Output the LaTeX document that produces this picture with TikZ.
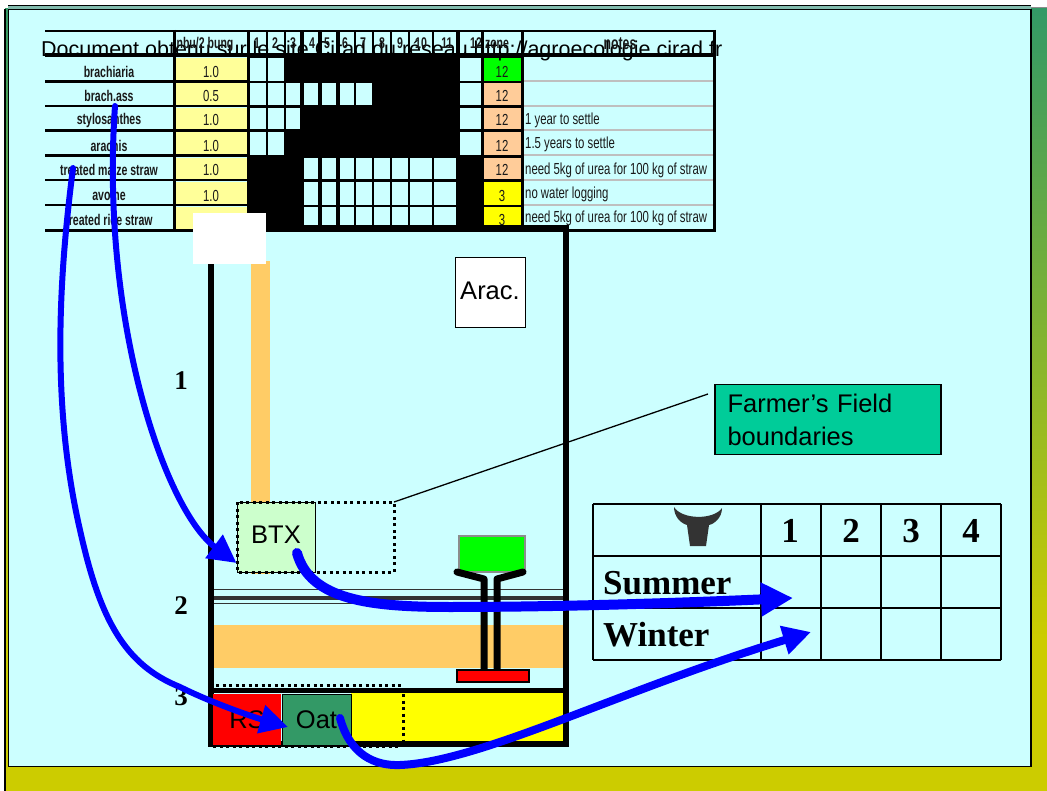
\documentclass[tikz,border=0pt]{standalone}
\usepackage{fontspec}
\usepackage{xcolor}
\setmainfont{Liberation Sans}
\newfontfamily\narrowfont[FakeStretch=0.71]{Liberation Sans}
\newfontfamily\narrowbold[FakeStretch=0.68]{Liberation Sans Bold}
\newfontfamily\timesfont{Liberation Serif}
\usetikzlibrary{arrows.meta,positioning,calc}
\definecolor{panel}{HTML}{CCFFFF}
\definecolor{olive}{HTML}{CCCC00}
\definecolor{seagreen}{HTML}{339966}
\definecolor{paleyellow}{HTML}{FFFF99}
\definecolor{brightyellow}{HTML}{FFFF00}
\definecolor{peach}{HTML}{FFCC99}
\definecolor{straw}{HTML}{FFCC66}
\definecolor{palegreen}{HTML}{CCFFCC}
\definecolor{teal}{HTML}{00CC99}
\definecolor{flow}{HTML}{0000FF}
\begin{document}
\begin{tikzpicture}[
  x=1pt,y=-1pt,
  lbl/.style={inner sep=0,anchor=base,font=\narrowbold\fontsize{15.5}{15}\selectfont,text=black!90},
  val/.style={inner sep=0,anchor=base,font=\narrowfont\fontsize{16}{15}\selectfont,text=black!90},
  note/.style={val,anchor=base west},
  plotbox/.style={draw=black,line width=1pt,inner sep=0,text depth=4pt,font=\fontsize{25.5}{30}\selectfont},
  big/.style={inner sep=0,font=\timesfont\bfseries\fontsize{35}{35}\selectfont},
  sidenum/.style={inner sep=0,font=\timesfont\bfseries\fontsize{27}{27}\selectfont},
  fieldline/.style={line width=6pt,draw=black},
  dots/.style={line width=3pt,dash pattern=on 3pt off 3.5pt,draw=black},
  arr/.style={-{Triangle[length=28pt,width=28pt]},line width=6pt,draw=flow,line cap=round}
]
\useasboundingbox (0,0) rectangle (1047,791);
% frame
\fill[white] (0,0) rectangle (1047,791);
\shade[top color=seagreen,bottom color=olive] (5,9) rectangle (1047,640);
\fill[olive] (5,640) rectangle (1047,791);
\fill[black] (4,9) rectangle (6,791);
\draw[black!45,line width=1pt] (1031,8) -- (1047,8);
\fill[teal!40!gray!70] (8,6) rectangle (1031,9);
\draw[black,line width=1pt] (8,6) -- (1031,6);
\draw[fill=panel,draw=black,line width=1.6pt] (8.5,9.5) rectangle (1031,766.5);
% table
\fill[black] (247,30) rectangle (524,232);
\foreach \rt/\rb/\cells in {
  32/53/{250/266,268/284,286/300,304/318,322/336,340/354,356/372,374/390,392/408,410/432,434/456,460/481,484/521},
  58/81/{250/266,268/284,460/481},
  83/105/{250/266,268/284,286/300,304/318,322/336,340/354,356/372,460/481},
  108/129/{250/266,268/284,286/300,460/481},
  132/155/{250/266,268/284,460/481},
  158/179/{304/318,322/336,340/354,356/372,374/390,392/408,410/432,434/456},
  182/205/{304/318,322/336,340/354,356/372,374/390,392/408,410/432,434/456},
  207/225/{304/318,322/336,340/354,356/372,374/390,392/408,410/432,434/456}}{
  \foreach \cl/\cr in \cells {\fill[panel] (\cl,\rt) rectangle (\cr,\rb);}
}
\foreach \rt/\rb in {58/81,83/105,108/129,132/155,158/179,182/205,207/229}{
  \fill[paleyellow] (176,\rt) rectangle (247,\rb);
}
\fill[green] (484,58) rectangle (521,81);
\foreach \rt/\rb in {83/105,108/129,132/155,158/179}{\fill[peach] (484,\rt) rectangle (521,\rb);}
\foreach \rt/\rb in {182/205,207/225}{\fill[brightyellow] (484,\rt) rectangle (521,\rb);}
\foreach \y in {81.5,106,130.5,155.5,180,205}{
  \draw[black!25,line width=2pt] (524,\y) -- (713,\y);
  \draw[black,line width=2.5pt] (45,\y) -- (247,\y);
}
\node[anchor=base west,inner sep=0,font=\fontsize{21.5}{20}\selectfont] (docline) at (41,57) {Document obtenu sur le site Cirad du réseau http://agroecologie.cirad.fr};
\draw[line width=2.5pt] (45,31) -- (716,31);
\draw[line width=4pt] (45,55) -- (716,55);
\draw[line width=3pt] (45,230.5) -- (716,230.5);
\draw[line width=3pt] (174,30) -- (174,232);
\draw[line width=3pt] (714.5,30) -- (714.5,232);
\foreach \x/\t [count=\i] in {205/nbu\slash 2 bung,257/1,275/2,293/3,312/4,327/5,345/6,363/7,382/8,400/9,421/10,447/11,476/12,497/zone}{
  \node[lbl] (head\i) at (\x,49) {\t};
}
\node[lbl,font=\narrowbold\fontsize{18}{18}\selectfont] (headnotes) at (620,50) {notes};
\foreach \y/\t [count=\i] in {78/brachiaria,102/brach.ass,125/stylosanthes,152/arachis,176/treated maize straw,201/avoine,226/treated rice straw}{
  \node[lbl] (crop\i) at (109,\y) {\t};
}
\foreach \y/\t [count=\i] in {78/1.0,102/0.5,126/1.0,152/1.0,176/1.0,202/1.0}{
  \node[val] (nbu\i) at (211,\y) {\t};
}
\foreach \y/\t [count=\i] in {78/12,102/12,126/12,152/12,176/12,202/3,226/3}{
  \node[val] (zone\i) at (502,\y) {\t};
}
\node[note] (note3) at (525,125) {1 year to settle};
\node[note] (note4) at (525,149) {1.5 years to settle};
\node[note] (note5) at (525,175) {need 5kg of urea for 100 kg of straw};
\node[note] (note6) at (525,199) {no water logging};
\node[note] (note7) at (525,223) {need 5kg of urea for 100 kg of straw};
% field
\fill[straw] (251,261) rectangle (270,574);
\fill[straw] (214,625) rectangle (563,668);
\fill[black!80] (209,596) rectangle (567,600);
\draw[black!80,line width=1pt] (210,589.5) -- (566,589.5);
\draw[black!80,line width=1pt] (210,603) -- (566,603);
\fill[brightyellow] (351,692) rectangle (563,741);
\draw[fieldline] (211,264) -- (211,744) -- (565.5,744) -- (565.5,228.5) -- (211,228.5);
\draw[line width=5pt] (211,690) -- (565.5,690);
\node[fill=red,inner sep=0,minimum width=68pt,minimum height=51pt,font=\fontsize{25.5}{30}\selectfont] (rsbox) at (247,719.5) {RS};
\node[fill=seagreen,draw=black,line width=1pt,inner sep=0,minimum width=69pt,minimum height=51pt,font=\fontsize{25.5}{30}\selectfont] (oatbox) at (316.5,719.5) {Oat};
\draw[dots] (216,685) -- (403,685);
\draw[dots] (403,694) -- (403,741);
\draw[dots] (213,746.5) -- (400,746.5);
\node[plotbox,fill=white,minimum size=70pt] (arac) at (490,293) {Arac.};
\node[plotbox,fill=palegreen,minimum width=78pt,minimum height=70pt] (btx) at (276,537) {BTX};
\draw[dots] (237,502) rectangle (394,572);
\coordinate (fieldcorner) at (394,502);
\coordinate (leaderend) at (708,394);
\draw[line width=1.3pt] (fieldcorner) -- (leaderend);
\node[draw=black,line width=1.3pt,fill=teal,inner sep=0,minimum width=226pt,minimum height=70pt,
  align=left,text width=201pt,font=\fontsize{25.5}{33}\selectfont] (farmer) at (828,419.5) {Farmer's Field\\boundaries};
% trough
\node[draw=black!45,line width=1.5pt,fill=green,inner sep=0,minimum width=66pt,minimum height=36pt] (trough) at (492,554) {};
\draw[line width=7pt,line cap=round,line join=round] (457,572) -- (484,579) -- (484,670);
\draw[line width=7pt,line cap=round,line join=round] (523,572) -- (497,579) -- (497,670);
\node[draw=black,line width=1.5pt,fill=red,inner sep=0,minimum width=72pt,minimum height=12pt] (base) at (493,676) {};
\node[fill=white,inner sep=0,minimum width=73pt,minimum height=51pt] (blank) at (229.5,238.5) {};
\node[sidenum] (side1) at (181,381) {1};
\node[sidenum] (side2) at (181,606) {2};
\node[sidenum] (side3) at (181,697) {3};
% calendar
\foreach \x in {593,761,821,881,941,1001}{\draw[line width=1.6pt] (\x,504) -- (\x,660);}
\foreach \y in {504,556,608,660}{\draw[line width=1.6pt] (593,\y) -- (1001,\y);}
\foreach \x/\t in {790/1,851/2,911/3,971/4}{\node[big] (month\t) at (\x,531) {\t};}
\node[big,anchor=west] (summer) at (603,583) {Summer};
\node[big,anchor=west] (winter) at (603,635) {Winter};
\fill[black!80] (674,507) .. controls (682,520) and (714,520) .. (722,508)
  .. controls (722,518) and (714,524) .. (709,525) -- (706,546) -- (690,546) -- (687,525)
  .. controls (680,523) and (674,516) .. (674,507) -- cycle;
% flows
\coordinate (brachsrc) at (115,106);
\coordinate (maizesrc) at (73,168);
\coordinate (btxsrc) at (297,553);
\coordinate (oatsrc) at (340,718);
\coordinate (btxtip) at ($(btx.west)+(0,26)$);
\coordinate (oattip) at (288,727);
\coordinate (sumtip) at (793,598);
\coordinate (wintip) at (811,632);
\draw[arr] (brachsrc) .. controls (100,320) and (165,510) .. (btxtip);
\draw[arr] (maizesrc) .. controls (60,270) and (50,400) .. (80,530) .. controls (100,620) and (125,665) .. (180,687) .. controls (210,702) and (250,716) .. (oattip);
\draw[arr,line width=10pt,-{Triangle[length=32pt,width=32pt]}] (btxsrc) .. controls (310,600) and (370,607) .. (450,607) .. controls (560,607) and (680,603) .. (sumtip);
\draw[arr,line width=8pt] (oatsrc) .. controls (350,755) and (375,766) .. (400,765) .. controls (480,762) and (620,690) .. (wintip);
\end{tikzpicture}
\end{document}
